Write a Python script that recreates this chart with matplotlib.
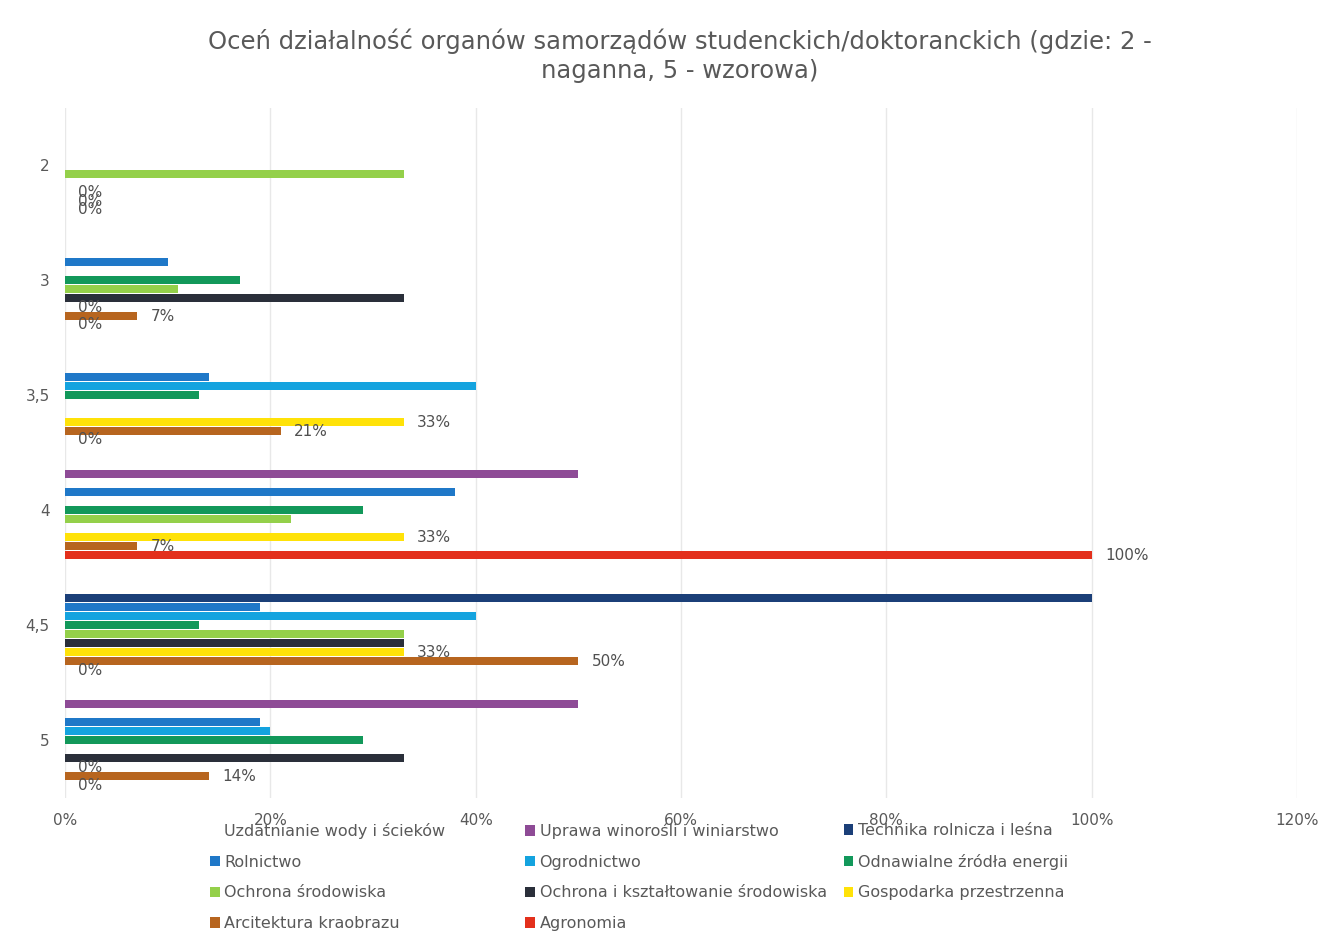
import matplotlib.pyplot as plt
from matplotlib.patches import Patch
import numpy as np

# oceny (kategorie) od gory do dolu
categories = ['2', '3', '3,5', '4', '4,5', '5']

series_names = [
    'Uzdatnianie wody i ścieków',
    'Uprawa winorośli i winiarstwo',
    'Technika rolnicza i leśna',
    'Rolnictwo',
    'Ogrodnictwo',
    'Odnawialne źródła energii',
    'Ochrona środowiska',
    'Ochrona i kształtowanie środowiska',
    'Gospodarka przestrzenna',
    'Arcitektura kraobrazu',
    'Agronomia',
]

uzdatnianie = [0, 0, 0, 0, 0, 0]
uprawa = [0, 0, 0, 50, 0, 50]
technika = [0, 0, 0, 0, 100, 0]
rolnictwo = [0, 10, 14, 38, 19, 19]
ogrodnictwo = [0, 0, 40, 0, 40, 20]
odnawialne = [0, 17, 13, 29, 13, 29]
ochrona = [33, 11, 0, 22, 33, 0]
ochrona_ksz = [0, 33, 0, 0, 33, 33]
gospodarka = [0, 0, 33, 33, 33, 0]
architektura = [0, 7, 21, 7, 50, 14]
agronomia = [0, 0, 0, 100, 0, 0]

values = [uzdatnianie, uprawa, technika, rolnictwo, ogrodnictwo, odnawialne,
          ochrona, ochrona_ksz, gospodarka, architektura, agronomia]

colors = ['#FFFFFF', '#8E4B96', '#1B3F78', '#1F78C8', '#14A3DF', '#12985A',
          '#94D04A', '#2A2F3A', '#FFE208', '#B7651F', '#E3301C']

# tylko te serie maja etykiety danych
labelled = [8, 9, 10]

plt.rcParams['font.family'] = ['DejaVu Sans']
fig = plt.figure(figsize=(13.33, 9.44), dpi=100)
ax = fig.add_axes([0.0488, 0.155, 0.9242, 0.731])

y = np.arange(len(categories))
slot = 0.078
n = len(series_names)
for i in range(n):
    pos = y + (i - (n - 1) / 2) * slot
    ax.barh(pos, values[i], height=slot * 0.92, color=colors[i], zorder=3)
    if i in labelled:
        for p, v in zip(pos, values[i]):
            ax.text(v + 1.3, p, f'{v:.0f}%', ha='left', va='center',
                    fontsize=11, color='#505050', zorder=4)

ax.set_xlim(0, 120)
ax.set_ylim(len(categories) - 0.5, -0.5)
ax.set_xticks(np.arange(0, 121, 20))
ax.set_xticklabels([f'{t}%' for t in range(0, 121, 20)])
ax.set_yticks(y)
ax.set_yticklabels(categories)
ax.tick_params(length=0, labelsize=11, colors='#595959')
ax.tick_params(axis='x', pad=11)
ax.tick_params(axis='y', pad=11)
ax.grid(axis='x', color='#E8E8E8', linewidth=1, zorder=0)
for s in ax.spines.values():
    s.set_visible(False)

fig.suptitle('Oceń działalność organów samorządów studenckich/doktoranckich (gdzie: 2 -\n'
             'naganna, 5 - wzorowa)', x=0.51, y=0.97, fontsize=17.5,
             color='#595959', linespacing=1.25)

# legenda: trzy kolumny wypelniane wierszami
order = [[0, 3, 6, 9], [1, 4, 7, 10], [2, 5, 8]]
col_x = [0.1575, 0.394, 0.633]
for col, xpos in zip(order, col_x):
    handles = [Patch(facecolor=colors[i]) for i in col]
    labels = [series_names[i] for i in col]
    fig.legend(handles, labels, loc='upper left', bbox_to_anchor=(xpos, 0.128),
               frameon=False, fontsize=11.5, handlelength=0.6, handleheight=0.6,
               handletextpad=0.3, labelspacing=0.98, labelcolor='#595959',
               borderaxespad=0, borderpad=0)

fig.savefig('out.png', dpi=100)
